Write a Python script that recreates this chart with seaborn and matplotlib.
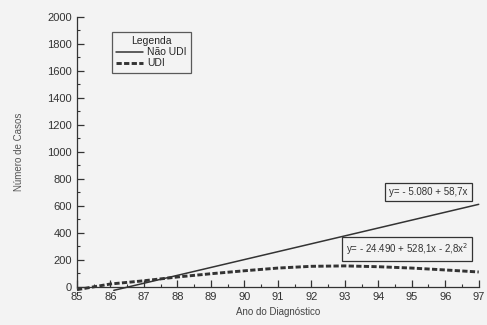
import matplotlib
matplotlib.use('Agg')
import matplotlib.pyplot as plt
import pandas as pd
import seaborn as sns

# data
anos_udi = [85, 86, 87, 88, 89, 90, 91, 92, 93, 94, 95, 96, 97]
casos_udi = [-20, 22, 46, 74, 98, 120, 140, 153, 156, 150, 140, 126, 111]
anos_nao_udi = [86.1, 97]
casos_nao_udi = [-25, 612]
eq_nao_udi = 'y= - 5.080 + 58,7x'
eq_udi = 'y= - 24.490 + 528,1x - 2,8x$^2$'

df_udi = pd.DataFrame({'ano': anos_udi, 'casos': casos_udi})
df_nao = pd.DataFrame({'ano': anos_nao_udi, 'casos': casos_nao_udi})

sns.set_style('ticks')
plt.rcParams['font.family'] = ['Liberation Sans', 'DejaVu Sans']

fig = plt.figure(figsize=(4.87, 3.25), dpi=100, facecolor='#f3f3f3')
ax = fig.add_axes([0.158, 0.117, 0.825, 0.831])
ax.set_facecolor('#f3f3f3')

sns.lineplot(data=df_nao, x='ano', y='casos', ax=ax, color='#333333',
             linewidth=1.1, label='Não UDI', clip_on=False)
sns.lineplot(data=df_udi, x='ano', y='casos', ax=ax, color='#333333',
             linewidth=2.1, linestyle=(0, (1.8, 0.8)), label='UDI', clip_on=False)

ax.set_xlim(85, 97)
ax.set_ylim(0, 2000)
ax.set_xticks(range(85, 98))
ax.set_yticks(range(0, 2001, 200))
ax.set_xticks([x + 0.5 for x in range(85, 97)], minor=True)
ax.set_yticks(range(100, 2000, 200), minor=True)
ax.tick_params(which='major', direction='in', length=5, width=0.9,
               labelsize=8, colors='#333333')
ax.tick_params(which='minor', direction='in', length=2.5, width=0.8, colors='#333333')
sns.despine(ax=ax)
for s in ['left', 'bottom']:
    ax.spines[s].set_color('#333333')
    ax.spines[s].set_linewidth(0.9)

ax.set_xlabel('Ano do Diagnóstico', fontsize=7, color='#444444')
ax.set_ylabel('Número de Casos', fontsize=7, color='#555555', labelpad=17)

leg = ax.legend(title='Legenda', loc='upper left', bbox_to_anchor=(0.074, 0.963),
                fontsize=7.5, title_fontsize=7.5, frameon=True, fancybox=False,
                handlelength=2.6, borderpad=0.4, labelspacing=0.1, handletextpad=0.4)
leg.get_frame().set_edgecolor('#333333')
leg.get_frame().set_facecolor('#f3f3f3')
leg.get_frame().set_linewidth(0.9)

box = dict(boxstyle='square,pad=0.4', facecolor='#f3f3f3', edgecolor='#333333', linewidth=0.9)
ax.text(95.5, 704, eq_nao_udi, fontsize=7, ha='center', va='center', bbox=box, color='#333333')
ax.text(94.85, 280, eq_udi, fontsize=7, ha='center', va='center', bbox=box, color='#333333')

fig.savefig('out.png', dpi=100, facecolor=fig.get_facecolor())
